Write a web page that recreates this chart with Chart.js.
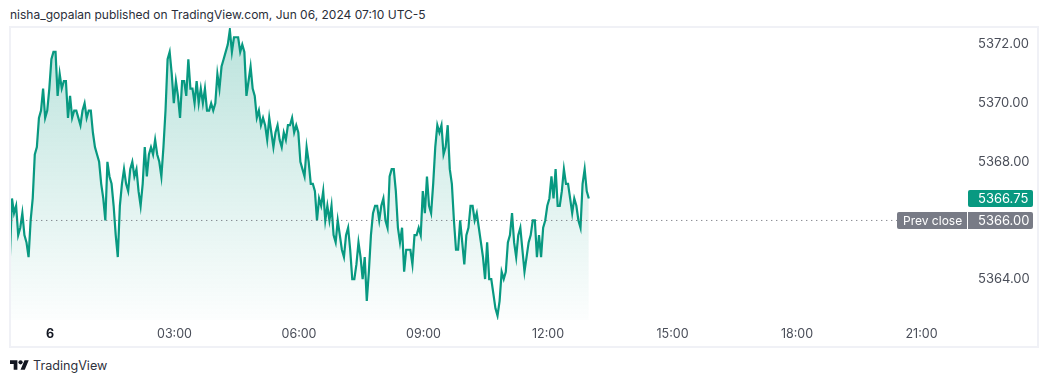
<!DOCTYPE html>
<html lang="en">
<head>
  <meta charset="UTF-8">
  <title>SPX futures, Jun 06 2024</title>
  <script src="https://cdn.jsdelivr.net/npm/chart.js"></script>
  <style>
    html, body { margin: 0; padding: 0; background: #fff; }
    body { width: 1048px; height: 382px; position: relative; overflow: hidden; font-family: Inter, "Noto Sans", sans-serif; }
    #head { position: absolute; left: 10px; top: 7px; font-size: 12px; line-height: 16px; color: #2a2e39; white-space: nowrap; }
    #frame { position: absolute; left: 9px; top: 26px; width: 1030px; height: 322px; border: 2px solid #f0f1f6; box-sizing: border-box; }
    #frame canvas { display: block; }
    #foot { position: absolute; left: 33px; top: 357px; font-size: 12.6px; line-height: 18px; color: #2f323d; }
    #logo { position: absolute; left: 10px; top: 358px; }
  </style>
</head>
<body>
  <div id="head">nisha_gopalan published on TradingView.com, Jun 06, 2024 07:10 UTC-5</div>
  <div id="frame"><canvas id="chart" width="1026" height="318"></canvas></div>
  <svg id="logo" width="19" height="15" viewBox="0 0 36 28"><path fill="#131722" d="M14 22H7V11H0V4h14v18zM28 22h-8l7.5-18h8L28 22z"/><circle fill="#131722" cx="20" cy="8" r="4"/></svg>
  <div id="foot">TradingView</div>

  <script>
    // minutes after midnight for the first sample, then one price every 3 minutes
    const firstMinute = -58;
    const stepMinutes = 3;
    const prices = [
      5364.75, 5366.75, 5366.25, 5366.5, 5365.5, 5365.75, 5366.25, 5365.5, 5365.25, 5364.75,
      5366, 5366.75, 5368.25, 5368.5, 5369.5, 5369.75, 5370.5, 5369.5, 5369.75, 5370.5,
      5371.5, 5371.75, 5371.75, 5370.25, 5371, 5370.5, 5370.75, 5370.75, 5369.5, 5370.25,
      5369.5, 5369.75, 5369.75, 5369.5, 5369.25, 5369.75, 5370, 5369.5, 5369.75, 5369.75,
      5369, 5368.5, 5368.25, 5368, 5367.25, 5366.75, 5366, 5368, 5367.5, 5367.25,
      5366.5, 5365.5, 5364.75, 5366.5, 5367.25, 5367.75, 5367.25, 5367, 5367.75, 5368,
      5367.5, 5367.75, 5367, 5366.5, 5367.25, 5368.5, 5367.5, 5368.25, 5368.5, 5368.25,
      5368.75, 5368.25, 5368, 5367.5, 5368.5, 5369.75, 5371.5, 5371.75, 5371, 5370,
      5370.75, 5370.25, 5369.5, 5370.75, 5370.75, 5370.25, 5371.5, 5370.5, 5370.5, 5370,
      5370.75, 5370, 5370.5, 5370, 5370.5, 5369.75, 5369.75, 5370, 5369.75, 5370,
      5371, 5370.5, 5371.25, 5371.5, 5371.75, 5372, 5372.5, 5371.75, 5372.25, 5372.25,
      5372.25, 5371.75, 5372, 5371.75, 5370.25, 5370.75, 5371.25, 5370.5, 5370.25, 5369.5,
      5369.75, 5369.25, 5369.5, 5369.25, 5368.75, 5369.5, 5369, 5368.5, 5369, 5369.25,
      5368.75, 5368.5, 5369, 5368.75, 5369.25, 5369.25, 5369.5, 5369, 5369.25, 5369,
      5368, 5367.75, 5367.5, 5368.5, 5368, 5367.25, 5367.25, 5367, 5366, 5366.75,
      5366.5, 5367, 5366, 5366.5, 5366, 5366.5, 5365.5, 5365.25, 5366, 5365.5,
      5365, 5364.75, 5365.5, 5365.75, 5365, 5364, 5364, 5364.5, 5365.25, 5364.75,
      5364, 5364.75, 5363.25, 5364.25, 5365.5, 5366.25, 5366.5, 5366.5, 5366, 5366.5,
      5366.75, 5366, 5365.75, 5367.5, 5367.75, 5367.75, 5367, 5365.75, 5365.25, 5365.75,
      5364.25, 5365, 5365, 5365, 5364.5, 5365.5, 5365.5, 5365.75, 5365.5, 5367,
      5366.25, 5367.5, 5366.5, 5366.25, 5367.25, 5368.5, 5369.25, 5369, 5369.25, 5368.25,
      5368.5, 5369.25, 5367.75, 5367.25, 5366, 5365, 5365, 5366, 5365.25, 5364.5,
      5365.5, 5365.75, 5366.5, 5366.5, 5366, 5366.25, 5365.75, 5365.25, 5364.75, 5364,
      5365.25, 5364, 5364, 5363.5, 5363, 5362.75, 5363.25, 5364.25, 5364, 5364.25,
      5365.25, 5365.5, 5366.25, 5365.25, 5364.75, 5365.5, 5365.75, 5365, 5364.25, 5364.75,
      5365.25, 5365.5, 5366, 5366, 5364.75, 5365.5, 5364.75, 5365.75, 5366, 5366.5,
      5366.75, 5367.5, 5366.75, 5367.75, 5366.5, 5366.5, 5367, 5367.75, 5367.25, 5367.25,
      5366.75, 5366.25, 5366.75, 5366.5, 5366, 5365.75, 5367.25, 5367.75, 5367, 5366.75
    ];
    const prevClose = 5366;
    const lastPrice = 5366.75;
    const priceTicks = [5364, 5368, 5370, 5372];
    const timeTicks = [0, 180, 360, 540, 720, 900, 1080, 1260];
    const timeLabels = ["6", "03:00", "06:00", "09:00", "12:00", "15:00", "18:00", "21:00"];
    const prevCloseEnd = 1225;

    const GREEN = "#089981";
    const GREY = "#787b86";
    const FONT = "Inter, 'Noto Sans', sans-serif";

    // price tags sitting on the right axis
    const tagsPlugin = {
      id: "tags",
      afterDraw(chart) {
        const { ctx, scales } = chart;
        const right = 1022;
        const edge = chart.chartArea.right;
        function tag(left, price, fill) {
          const y = Math.round(scales.y.getPixelForValue(price));
          ctx.fillStyle = fill;
          ctx.beginPath();
          ctx.roundRect(left, y - 8, right - left, 17, 2);
          ctx.fill();
          return y;
        }
        ctx.save();
        ctx.textBaseline = "middle";
        ctx.textAlign = "left";
        let y = tag(edge + 1, lastPrice, GREEN);
        ctx.fillStyle = "#fff";
        ctx.font = "13px " + FONT;
        ctx.fillText(lastPrice.toFixed(2), edge + 11, y + 1);
        y = tag(edge - 70, prevClose, GREY);
        ctx.fillStyle = "#fff";
        ctx.fillRect(edge, y - 8, 1, 17);
        ctx.fillText(prevClose.toFixed(2), edge + 11, y + 1);
        ctx.font = "12px " + FONT;
        ctx.fillText("Prev close", edge - 64, y + 1);
        ctx.restore();
      }
    };

    new Chart(document.getElementById("chart"), {
      type: "line",
      data: {
        datasets: [
          {
            data: prices.map((p, i) => ({ x: firstMinute + i * stepMinutes, y: p })),
            borderColor: GREEN,
            borderWidth: 2.2,
            pointRadius: 0,
            tension: 0,
            fill: "start",
            backgroundColor(c) {
              const area = c.chart.chartArea;
              if (!area) return "transparent";
              const g = c.chart.ctx.createLinearGradient(0, area.top, 0, area.bottom);
              g.addColorStop(0, "rgba(8,153,129,0.28)");
              g.addColorStop(1, "rgba(8,153,129,0.01)");
              return g;
            },
            order: 2
          },
          {
            data: [{ x: -56, y: prevClose }, { x: prevCloseEnd, y: prevClose }],
            borderColor: "#5d606b",
            borderWidth: 1,
            borderDash: [1, 4],
            pointRadius: 0,
            order: 1
          }
        ]
      },
      options: {
        responsive: false,
        animation: false,
        layout: { padding: 0 },
        plugins: { legend: { display: false }, tooltip: { enabled: false } },
        scales: {
          x: {
            type: "linear",
            min: -56.4,
            max: 1325.8,
            grid: { display: false, drawTicks: false },
            border: { display: false },
            afterBuildTicks(s) { s.ticks = timeTicks.map(v => ({ value: v })); },
            afterFit(s) { s.height = 26; s.paddingLeft = 0; s.paddingRight = 0; },
            ticks: {
              autoSkip: false,
              maxRotation: 0,
              padding: 7,
              color: c => c.index === 0 ? "#131722" : "#4a4e59",
              font: c => ({ family: FONT, size: 12.5, weight: c.index === 0 ? "bold" : "normal" }),
              callback: (v, i) => timeLabels[i]
            }
          },
          y: {
            position: "right",
            min: 5362.603,
            max: 5372.566,
            grid: { display: false, drawTicks: false },
            border: { display: false },
            afterBuildTicks(s) { s.ticks = priceTicks.map(v => ({ value: v })); },
            afterFit(s) { s.width = 70; s.paddingTop = 0; s.paddingBottom = 0; },
            ticks: {
              padding: 11,
              color: "#4a4e59",
              font: { family: FONT, size: 13 },
              callback: v => v.toFixed(2)
            }
          }
        }
      },
      plugins: [tagsPlugin]
    });
  </script>
</body>
</html>
